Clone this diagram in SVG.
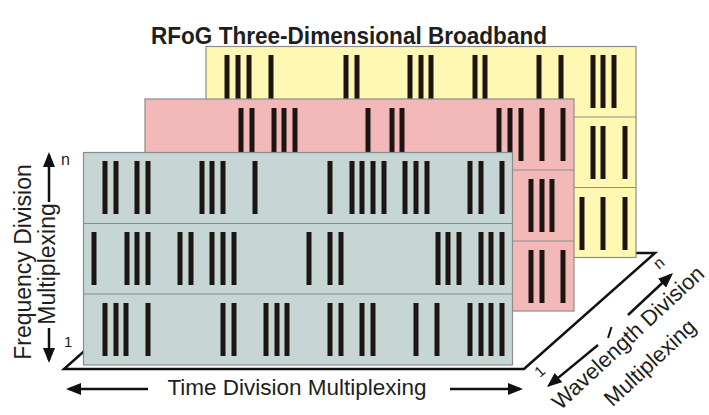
<svg xmlns="http://www.w3.org/2000/svg" width="709" height="415" viewBox="0 0 709 415">
<defs>
<style>
.panel{stroke:#8c8c8c;stroke-width:1.2}
.div{stroke:#8c8c8c;stroke-width:1.2}
.bar{stroke:#1c1512;stroke-width:5;fill:none}
.ax{stroke:#111;stroke-width:2.5;fill:none}
.lbl{font-family:"Liberation Sans",Arial,sans-serif;fill:#1e1e1e}
</style>
<marker id="ah" viewBox="0 0 15 12" markerUnits="userSpaceOnUse" markerWidth="15" markerHeight="12" refX="12" refY="6" orient="auto">
<path d="M0,0L15,6L0,12z" fill="#111"/>
</marker>
</defs>
<rect width="709" height="415" fill="#fff"/>
<text class="lbl" x="349" y="43.5" font-size="24" font-weight="bold" text-anchor="middle" textLength="396" lengthAdjust="spacingAndGlyphs">RFoG Three-Dimensional Broadband</text>
<g id="floor">
<polygon points="64,369 524,369 655,253 195,253" fill="none" stroke="#111" stroke-width="2.5" stroke-linejoin="miter"/>
</g>
<g id="panel-yellow">
<rect class="panel" x="206" y="46.5" width="430" height="211" fill="#fff8b3"/>
<line class="div" x1="206" y1="117" x2="636" y2="117"/>
<line class="div" x1="206" y1="187.5" x2="636" y2="187.5"/>
<path class="bar" d="M227 55v53M238 55v53M249 55v53M271 55v53M346 55v53M357 55v53M410 55v53M421 55v53M431 55v53M475 55v53M485 55v53M539 55v53M561 55v53M593 55v53M603 55v53M614 55v53"/>
<path class="bar" d="M593 126v53M603 126v53M625 126v53"/>
<path class="bar" d="M582 197v53M603 197v53M625 197v53"/>
</g>
<g id="panel-pink">
<rect class="panel" x="145" y="99" width="429" height="212" fill="#f3b9b9"/>
<line class="div" x1="145" y1="170" x2="574" y2="170"/>
<line class="div" x1="145" y1="241" x2="574" y2="241"/>
<path class="bar" d="M241 108v53M252 108v53M274 108v53M284 108v53M295 108v53M368 108v53M392 108v53M402 108v53M499 108v53M510 108v53M521 108v53M542 108v53M563 108v53"/>
<path class="bar" d="M531 179v53M542 179v53M552 179v53"/>
<path class="bar" d="M531 250v53M542 250v53M563 250v53"/>
</g>
<g id="panel-teal">
<rect class="panel" x="83.5" y="152.5" width="429" height="212.5" fill="#c5d6d5"/>
<line class="div" x1="83.5" y1="223.5" x2="512.5" y2="223.5"/>
<line class="div" x1="83.5" y1="294" x2="512.5" y2="294"/>
<path class="bar" d="M105 161v53M116 161v53M137 161v53M148 161v53M202 161v53M212 161v53M223 161v53M255 161v53M330 161v53M352 161v53M362 161v53M373 161v53M384 161v53M405 161v53M416 161v53M427 161v53M470 161v53M481 161v53M502 161v53"/>
<path class="bar" d="M94 232v53M127 232v53M137 232v53M148 232v53M180 232v53M191 232v53M212 232v53M223 232v53M234 232v53M309 232v53M330 232v53M341 232v53M438 232v53M448 232v53M459 232v53M481 232v53M491 232v53M502 232v53"/>
<path class="bar" d="M105 303v53M116 303v53M126 303v53M148 303v53M223 303v53M234 303v53M266 303v53M277 303v53M287 303v53M330 303v53M341 303v53M362 303v53M373 303v53M416 303v53M437 303v53M470 303v53M481 303v53M491 303v53M502 303v53"/>
</g>
<g id="connectors">
<line class="ax" x1="148" y1="389" x2="69" y2="389" marker-end="url(#ah)"/>
<line class="ax" x1="450" y1="389" x2="520" y2="389" marker-end="url(#ah)"/>
<line class="ax" x1="49" y1="202" x2="49" y2="155" marker-end="url(#ah)"/>
<line class="ax" x1="49" y1="328" x2="49" y2="360" marker-end="url(#ah)"/>
<line class="ax" x1="628" y1="315" x2="670.8" y2="275" marker-end="url(#ah)"/>
<line class="ax" x1="598" y1="345" x2="549.3" y2="385.1" marker-end="url(#ah)"/>
<line x1="608" y1="338" x2="611.5" y2="327" stroke="#111" stroke-width="2"/>
</g>
<g id="axis-labels">
<text class="lbl" x="297" y="395" font-size="22.5" text-anchor="middle">Time Division Multiplexing</text>
<text class="lbl" font-size="23" text-anchor="middle" transform="translate(31,262) rotate(-90)">Frequency Division</text>
<text class="lbl" font-size="23" text-anchor="middle" transform="translate(55,264) rotate(-90)">Multiplexing</text>
<text class="lbl" x="61" y="165" font-size="16">n</text>
<text class="lbl" x="64" y="347" font-size="15">1</text>
<text class="lbl" font-size="22" text-anchor="middle" transform="translate(633,343) rotate(-43)">Wavelength Division</text>
<text class="lbl" font-size="22" text-anchor="middle" transform="translate(655,368) rotate(-43)">Multiplexing</text>
<text class="lbl" font-size="16" transform="translate(659,270) rotate(-41.5)">n</text>
<text class="lbl" font-size="15" transform="translate(540,378) rotate(-41.5)">1</text>
</g>
</svg>
